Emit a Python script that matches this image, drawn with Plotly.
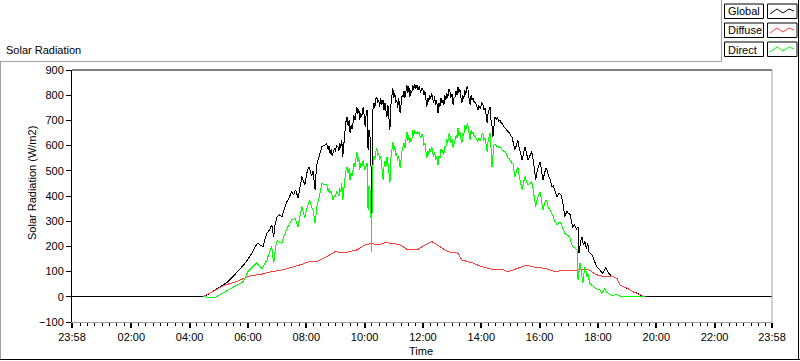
import plotly.graph_objects as go

# ---------------- data ----------------
DAY = "2024-01-02 "
X_START = "2024-01-01 23:58"
X_END = "2024-01-02 23:58"

TICK_LABELS = ["23:58", "02:00", "04:00", "06:00", "08:00", "10:00", "12:00",
               "14:00", "16:00", "18:00", "20:00", "22:00", "23:58"]
Y_TICKS = [-100, 0, 100, 200, 300, 400, 500, 600, 700, 800, 900]

GLOBAL = [
    ("04:27", 0), ("04:40", 12), ("04:52", 27), ("05:05", 42), ("05:19", 60), ("05:30", 82),
    ("05:39", 100), ("05:47", 115), ("05:54", 133), ("06:02", 155), ("06:10", 179),
    ("06:15", 200), ("06:20", 213), ("06:25", 205), ("06:31", 199), ("06:35", 230),
    ("06:39", 253), ("06:44", 265), ("06:49", 285), ("06:51", 260), ("06:53", 239),
    ("06:56", 290), ("07:00", 318), ("07:05", 325), ("07:10", 318), ("07:15", 350),
    ("07:20", 377), ("07:25", 395), ("07:30", 417), ("07:34", 405), ("07:38", 425),
    ("07:43", 392), ("07:47", 440), ("07:51", 477), ("07:54", 460), ("07:57", 444),
    ("08:01", 490), ("08:05", 516), ("08:08", 500), ("08:11", 480), ("08:14", 500),
    ("08:18", 424), ("08:21", 520), ("08:24", 543), ("08:28", 575), ("08:32", 596),
    ("08:37", 600), ("08:42", 609), ("08:44", 590), ("08:45", 583), ("08:47", 600),
    ("08:49", 569), ("08:51", 585), ("08:53", 560), ("08:55", 570), ("08:58", 590),
    ("09:00", 575), ("09:02", 600), ("09:05", 596), ("09:07", 580), ("09:09", 610),
    ("09:11", 590), ("09:13", 622), ("09:15", 556), ("09:17", 600), ("09:19", 640),
    ("09:21", 690), ("09:24", 715), ("09:26", 680), ("09:28", 700), ("09:30", 650),
    ("09:32", 680), ("09:34", 665), ("09:36", 690), ("09:38", 720), ("09:40", 700),
    ("09:42", 740), ("09:44", 754), ("09:46", 725), ("09:48", 745), ("09:50", 702),
    ("09:52", 730), ("09:54", 715), ("09:57", 754), ("09:59", 720), ("10:01", 675),
    ("10:03", 720), ("10:05", 741), ("10:06", 700), ("10:07", 583), ("10:09", 660),
    ("10:11", 635), ("10:13", 560), ("10:14", 190), ("10:16", 600), ("10:17", 741),
    ("10:19", 770), ("10:21", 750), ("10:23", 785), ("10:25", 794), ("10:27", 770),
    ("10:29", 780), ("10:31", 754), ("10:33", 790), ("10:35", 760), ("10:38", 781),
    ("10:40", 740), ("10:42", 770), ("10:44", 735), ("10:46", 715), ("10:48", 760),
    ("10:50", 700), ("10:52", 662), ("10:54", 760), ("10:56", 800), ("10:58", 827),
    ("11:00", 790), ("11:02", 810), ("11:04", 770), ("11:06", 781), ("11:08", 750),
    ("11:10", 790), ("11:13", 728), ("11:15", 770), ("11:17", 800), ("11:19", 794),
    ("11:21", 815), ("11:23", 790), ("11:25", 825), ("11:27", 840), ("11:29", 810),
    ("11:31", 835), ("11:33", 794), ("11:35", 820), ("11:37", 810), ("11:39", 840),
    ("11:41", 820), ("11:43", 845), ("11:45", 825), ("11:48", 840), ("11:50", 820),
    ("11:52", 835), ("11:55", 810), ("11:58", 830), ("12:00", 821), ("12:02", 800),
    ("12:04", 815), ("12:06", 780), ("12:08", 754), ("12:10", 790), ("12:12", 775),
    ("12:14", 800), ("12:16", 785), ("12:18", 807), ("12:20", 790), ("12:22", 770),
    ("12:24", 795), ("12:26", 760), ("12:28", 780), ("12:31", 728), ("12:33", 770),
    ("12:35", 755), ("12:37", 790), ("12:39", 770), ("12:41", 781), ("12:43", 760),
    ("12:45", 800), ("12:47", 780), ("12:49", 810), ("12:51", 790), ("12:53", 825),
    ("12:55", 821), ("12:57", 790), ("13:00", 805), ("13:02", 761), ("13:04", 790),
    ("13:06", 794), ("13:08", 815), ("13:10", 800), ("13:12", 834), ("13:14", 810),
    ("13:16", 825), ("13:18", 790), ("13:20", 768), ("13:22", 800), ("13:24", 785),
    ("13:26", 821), ("13:28", 800), ("13:30", 830), ("13:32", 834), ("13:34", 800),
    ("13:37", 761), ("13:39", 800), ("13:41", 780), ("13:43", 789), ("13:45", 775),
    ("13:48", 770), ("13:50", 755), ("13:53", 741), ("13:55", 760), ("13:58", 745),
    ("14:01", 770), ("14:03", 768), ("14:05", 740), ("14:08", 750), ("14:10", 720),
    ("14:12", 689), ("14:14", 730), ("14:16", 745), ("14:18", 754), ("14:20", 700),
    ("14:22", 680), ("14:24", 635), ("14:26", 690), ("14:28", 715), ("14:31", 705),
    ("14:34", 710), ("14:36", 695), ("14:38", 702), ("14:41", 690), ("14:44", 685),
    ("14:46", 675), ("14:49", 669), ("14:52", 660), ("14:55", 655), ("14:58", 650),
    ("15:00", 640), ("15:03", 635), ("15:06", 610), ("15:09", 583), ("15:12", 600),
    ("15:15", 622), ("15:18", 590), ("15:21", 570), ("15:24", 543), ("15:27", 570),
    ("15:30", 596), ("15:33", 570), ("15:36", 543), ("15:40", 560), ("15:44", 576),
    ("15:47", 540), ("15:50", 500), ("15:52", 463), ("15:55", 500), ("15:58", 520),
    ("16:01", 536), ("16:04", 500), ("16:07", 463), ("16:10", 490), ("16:13", 510),
    ("16:15", 503), ("16:18", 480), ("16:21", 470), ("16:25", 437), ("16:28", 440),
    ("16:31", 420), ("16:36", 397), ("16:40", 410), ("16:44", 404), ("16:48", 370),
    ("16:52", 318), ("16:56", 340), ("16:59", 330), ("17:02", 331), ("17:05", 300),
    ("17:08", 278), ("17:12", 285), ("17:16", 270), ("17:19", 278), ("17:21", 173),
    ("17:24", 215), ("17:27", 238), ("17:30", 205), ("17:33", 219), ("17:36", 190),
    ("17:39", 215), ("17:41", 179), ("17:45", 170), ("17:48", 166), ("17:53", 140),
    ("17:58", 119), ("18:04", 106), ("18:10", 93), ("18:13", 105), ("18:16", 117),
    ("18:20", 100), ("18:25", 87), ("18:32", 80), ("18:39", 73), ("18:45", 47),
    ("18:52", 40), ("19:00", 34), ("19:06", 27), ("19:12", 20), ("19:22", 10),
    ("19:32", 3), ("19:37", 0),
]

DIFFUSE = [
    ("04:27", 0), ("04:52", 27), ("05:13", 47), ("05:33", 58), ("05:54", 73), ("06:04", 83),
    ("06:29", 90), ("06:49", 100), ("07:10", 106), ("07:30", 117), ("07:51", 129),
    ("08:07", 141), ("08:24", 142), ("08:38", 155), ("08:49", 166), ("08:59", 179),
    ("09:20", 175), ("09:44", 186), ("10:01", 206), ("10:15", 212), ("10:27", 206),
    ("10:42", 215), ("10:58", 212), ("11:13", 206), ("11:29", 186), ("11:48", 186),
    ("12:04", 206), ("12:18", 219), ("12:35", 199), ("12:51", 179), ("13:12", 173),
    ("13:20", 146), ("13:41", 135), ("14:01", 119), ("14:22", 109), ("14:42", 109),
    ("14:55", 100), ("15:15", 113), ("15:34", 126), ("15:50", 117), ("16:11", 113),
    ("16:31", 100), ("16:52", 106), ("17:13", 106), ("17:33", 108), ("17:43", 106),
    ("17:54", 90), ("18:04", 83), ("18:14", 80), ("18:29", 83), ("18:39", 73),
    ("18:45", 47), ("19:00", 34), ("19:12", 20), ("19:32", 3), ("19:37", 0),
]

DIRECT = [
    ("04:27", 0), ("04:40", -2), ("04:52", -3), ("05:02", 8), ("05:13", 20), ("05:23", 30),
    ("05:33", 40), ("05:42", 50), ("05:50", 60), ("05:55", 80), ("06:00", 100),
    ("06:05", 110), ("06:10", 119), ("06:14", 128), ("06:18", 135), ("06:23", 122),
    ("06:29", 113), ("06:34", 130), ("06:39", 146), ("06:42", 165), ("06:45", 179),
    ("06:49", 199), ("06:51", 160), ("06:53", 133), ("06:57", 200), ("07:00", 225),
    ("07:05", 215), ("07:10", 212), ("07:13", 235), ("07:16", 252), ("07:19", 265),
    ("07:22", 278), ("07:26", 290), ("07:30", 305), ("07:37", 310), ("07:40", 295),
    ("07:43", 278), ("07:47", 320), ("07:51", 358), ("07:54", 335), ("07:57", 312),
    ("08:01", 350), ("08:04", 370), ("08:07", 384), ("08:10", 360), ("08:14", 344),
    ("08:18", 292), ("08:22", 360), ("08:26", 391), ("08:29", 420), ("08:32", 450),
    ("08:37", 445), ("08:42", 444), ("08:44", 430), ("08:45", 417), ("08:47", 430),
    ("08:49", 411), ("08:51", 420), ("08:53", 392), ("08:55", 384), ("08:58", 400),
    ("09:00", 395), ("09:02", 420), ("09:05", 411), ("09:07", 400), ("09:09", 430),
    ("09:11", 415), ("09:13", 450), ("09:15", 384), ("09:17", 420), ("09:19", 470),
    ("09:21", 500), ("09:24", 516), ("09:26", 490), ("09:28", 510), ("09:30", 463),
    ("09:32", 490), ("09:34", 480), ("09:36", 503), ("09:38", 530), ("09:40", 515),
    ("09:42", 550), ("09:44", 576), ("09:46", 535), ("09:48", 555), ("09:50", 503),
    ("09:52", 530), ("09:54", 515), ("09:57", 543), ("09:59", 515), ("10:01", 503),
    ("10:03", 515), ("10:05", 530), ("10:06", 490), ("10:07", 344), ("10:09", 440),
    ("10:11", 424), ("10:13", 330), ("10:14", 179), ("10:15", 318), ("10:16", 430),
    ("10:17", 516), ("10:19", 560), ("10:21", 545), ("10:23", 575), ("10:25", 589),
    ("10:27", 560), ("10:29", 570), ("10:31", 543), ("10:33", 560), ("10:35", 520),
    ("10:38", 463), ("10:40", 520), ("10:42", 540), ("10:44", 520), ("10:46", 556),
    ("10:48", 530), ("10:50", 490), ("10:52", 450), ("10:54", 550), ("10:56", 590),
    ("10:58", 615), ("11:00", 580), ("11:02", 600), ("11:04", 560), ("11:06", 569),
    ("11:08", 540), ("11:10", 560), ("11:13", 510), ("11:15", 550), ("11:17", 580),
    ("11:19", 596), ("11:21", 610), ("11:23", 590), ("11:25", 630), ("11:27", 655),
    ("11:29", 620), ("11:31", 640), ("11:33", 609), ("11:35", 630), ("11:37", 620),
    ("11:39", 662), ("11:41", 640), ("11:43", 660), ("11:45", 645), ("11:48", 655),
    ("11:50", 649), ("11:52", 655), ("11:55", 630), ("11:58", 645), ("12:00", 635),
    ("12:02", 600), ("12:04", 610), ("12:06", 580), ("12:08", 550), ("12:10", 580),
    ("12:12", 565), ("12:14", 590), ("12:16", 575), ("12:18", 596), ("12:20", 575),
    ("12:22", 555), ("12:24", 575), ("12:26", 545), ("12:28", 560), ("12:31", 523),
    ("12:33", 560), ("12:35", 550), ("12:37", 585), ("12:39", 570), ("12:41", 583),
    ("12:43", 565), ("12:45", 600), ("12:47", 590), ("12:49", 625), ("12:51", 610),
    ("12:53", 645), ("12:55", 649), ("12:57", 610), ("13:00", 625), ("13:02", 589),
    ("13:04", 610), ("13:06", 622), ("13:08", 640), ("13:10", 630), ("13:12", 669),
    ("13:14", 640), ("13:16", 655), ("13:18", 630), ("13:20", 609), ("13:22", 650),
    ("13:24", 640), ("13:26", 682), ("13:28", 660), ("13:30", 680), ("13:32", 688),
    ("13:34", 660), ("13:37", 622), ("13:39", 660), ("13:41", 645), ("13:43", 655),
    ("13:45", 640), ("13:48", 635), ("13:50", 625), ("13:53", 615), ("13:55", 630),
    ("13:58", 620), ("14:01", 645), ("14:03", 649), ("14:05", 620), ("14:08", 630),
    ("14:10", 600), ("14:12", 576), ("14:14", 620), ("14:16", 635), ("14:18", 649),
    ("14:20", 590), ("14:22", 516), ("14:24", 560), ("14:26", 602), ("14:28", 605),
    ("14:31", 598), ("14:34", 600), ("14:36", 590), ("14:38", 596), ("14:41", 585),
    ("14:44", 580), ("14:46", 578), ("14:49", 576), ("14:52", 565), ("14:55", 550),
    ("14:58", 548), ("15:00", 540), ("15:03", 530), ("15:05", 530), ("15:07", 500),
    ("15:09", 477), ("15:12", 495), ("15:15", 516), ("15:18", 480), ("15:21", 455),
    ("15:24", 424), ("15:27", 455), ("15:30", 477), ("15:33", 455), ("15:36", 444),
    ("15:40", 450), ("15:44", 457), ("15:47", 420), ("15:50", 390), ("15:52", 358),
    ("15:55", 390), ("15:58", 405), ("16:01", 417), ("16:04", 380), ("16:07", 344),
    ("16:10", 370), ("16:13", 385), ("16:15", 377), ("16:18", 355), ("16:21", 345),
    ("16:25", 331), ("16:28", 320), ("16:31", 300), ("16:36", 285), ("16:40", 295),
    ("16:44", 292), ("16:48", 270), ("16:52", 252), ("16:56", 245), ("16:59", 240),
    ("17:02", 238), ("17:05", 215), ("17:08", 199), ("17:12", 195), ("17:17", 186),
    ("17:19", 67), ("17:21", 110), ("17:23", 133), ("17:26", 95), ("17:29", 54),
    ("17:31", 90), ("17:33", 117), ("17:35", 106), ("17:37", 80), ("17:39", 95),
    ("17:43", 54), ("17:48", 45), ("17:54", 34), ("18:00", 30), ("18:04", 27),
    ("18:08", 14), ("18:11", 25), ("18:14", 31), ("18:17", 20), ("18:20", 14),
    ("18:25", 8), ("18:29", 5), ("18:35", 8), ("18:41", 7), ("18:49", 0), ("19:37", 0),
]

# ---------------- figure ----------------
W, H = 800, 361
L, R, T, B = 72, 772, 70, 322  # plot area in pixels
FONT = "Liberation Sans, Arial, sans-serif"


def px(x):
    return (x - L) / (R - L)


def py(y):
    return (B - y) / (B - T)


def xs(series):
    return [DAY + t for t, _ in series]


def ys(series):
    return [v for _, v in series]


fig = go.Figure()
fig.add_trace(go.Scatter(x=[X_START] + xs(GLOBAL) + [X_END], y=[0] + ys(GLOBAL) + [0],
                         mode="lines", line=dict(color="#000000", width=1), name="Global"))
fig.add_trace(go.Scatter(x=xs(DIFFUSE), y=ys(DIFFUSE), mode="lines",
                         line=dict(color="#ff3c3c", width=1), name="Diffuse"))
fig.add_trace(go.Scatter(x=xs(DIRECT), y=ys(DIRECT), mode="lines",
                         line=dict(color="#00ff00", width=1), name="Direct"))

tickvals = [X_START] + [DAY + t for t in TICK_LABELS[1:-1]] + [X_END]

shapes = []
# plot-area border (top black, right grey)
shapes.append(dict(type="line", xref="paper", yref="paper", x0=0, x1=1, y0=1, y1=1,
                   line=dict(color="#000000", width=1)))
shapes.append(dict(type="line", xref="paper", yref="paper", x0=1, x1=1, y0=0, y1=1,
                   line=dict(color="#a0a0a0", width=1)))
# outer frame
shapes.append(dict(type="line", xref="paper", yref="paper", x0=px(0), x1=px(721.5),
                   y0=py(61.5), y1=py(61.5), line=dict(color="#a0a0a0", width=1)))
shapes.append(dict(type="line", xref="paper", yref="paper", x0=px(0.5), x1=px(0.5),
                   y0=py(61.5), y1=py(360), line=dict(color="#a0a0a0", width=1)))
shapes.append(dict(type="line", xref="paper", yref="paper", x0=px(0), x1=px(800),
                   y0=py(359.5), y1=py(359.5), line=dict(color="#000000", width=1)))
shapes.append(dict(type="line", xref="paper", yref="paper", x0=px(721.5), x1=px(721.5),
                   y0=py(0), y1=py(61.5), line=dict(color="#a0a0a0", width=1)))
shapes.append(dict(type="line", xref="paper", yref="paper", x0=px(798.5), x1=px(798.5),
                   y0=py(0), y1=py(360), line=dict(color="#000000", width=1)))

annotations = []
legend = [("Global", "#000000", 4), ("Diffuse", "#ff3c3c", 23), ("Direct", "#00ff00", 42)]
for name, col, top in legend:
    bot = top + 14.5
    shapes.append(dict(type="rect", xref="paper", yref="paper", x0=px(724.5), x1=px(763.5),
                       y0=py(bot), y1=py(top), line=dict(color="#000000", width=1)))
    shapes.append(dict(type="rect", xref="paper", yref="paper", x0=px(767.5), x1=px(797),
                       y0=py(bot), y1=py(top), line=dict(color="#000000", width=1)))
    pts = [(770, top + 10), (777, top + 5), (783, top + 9), (789, top + 5), (794, top + 7)]
    path = "M " + " L ".join(f"{px(a):.5f},{py(b):.5f}" for a, b in pts)
    shapes.append(dict(type="path", xref="paper", yref="paper", path=path,
                       line=dict(color=col, width=1)))
    annotations.append(dict(text=name, xref="paper", yref="paper", x=px(726),
                            y=py(top + 7.5), xanchor="left", yanchor="middle",
                            showarrow=False, font=dict(family=FONT, size=11, color="#000000")))

annotations.append(dict(text="Solar Radiation", xref="paper", yref="paper", x=px(4),
                        y=py(50), xanchor="left", yanchor="middle", showarrow=False,
                        font=dict(family=FONT, size=11, color="#000000")))
annotations.append(dict(text="Solar Radiation (W/m2)", xref="paper", yref="paper", x=px(32),
                        y=py(183), xanchor="center", yanchor="middle", textangle=-90,
                        showarrow=False, font=dict(family=FONT, size=11, color="#000000")))
annotations.append(dict(text="Time", xref="paper", yref="paper", x=px(421), y=py(351),
                        xanchor="center", yanchor="middle", showarrow=False,
                        font=dict(family=FONT, size=11, color="#000000")))

fig.update_layout(
    width=W, height=H,
    margin=dict(l=L, r=W - R, t=T, b=H - B, pad=0),
    paper_bgcolor="#ffffff", plot_bgcolor="#ffffff",
    showlegend=False,
    shapes=shapes, annotations=annotations,
    font=dict(family=FONT, size=11, color="#000000"),
    xaxis=dict(type="date", range=[X_START, X_END], tickvals=tickvals, ticktext=TICK_LABELS,
               showgrid=False, zeroline=False, showline=True, linecolor="#a0a0a0", linewidth=1,
               ticks="outside", ticklen=5, tickwidth=2, tickcolor="#000000",
               tickfont=dict(family=FONT, size=11, color="#000000"),
               minor=dict(ticks="outside", ticklen=3, tickcolor="#000000", tickwidth=1,
                          dtick=15 * 60 * 1000, tick0=DAY + "00:00", showgrid=False)),
    yaxis=dict(range=[-100, 900], tickvals=Y_TICKS, showgrid=False, zeroline=False,
               showline=True, linecolor="#000000", linewidth=1,
               ticks="outside", ticklen=5, tickcolor="#000000",
               tickfont=dict(family=FONT, size=11, color="#000000")),
)

fig.write_html("out.html",
               config={"displayModeBar": False},
               post_script="document.body.style.margin='0';"
                           "document.body.style.overflow='hidden';"
                           "document.querySelectorAll('.scatterlayer path.js-line')"
                           ".forEach(function(p){p.style.shapeRendering='crispEdges';});")
